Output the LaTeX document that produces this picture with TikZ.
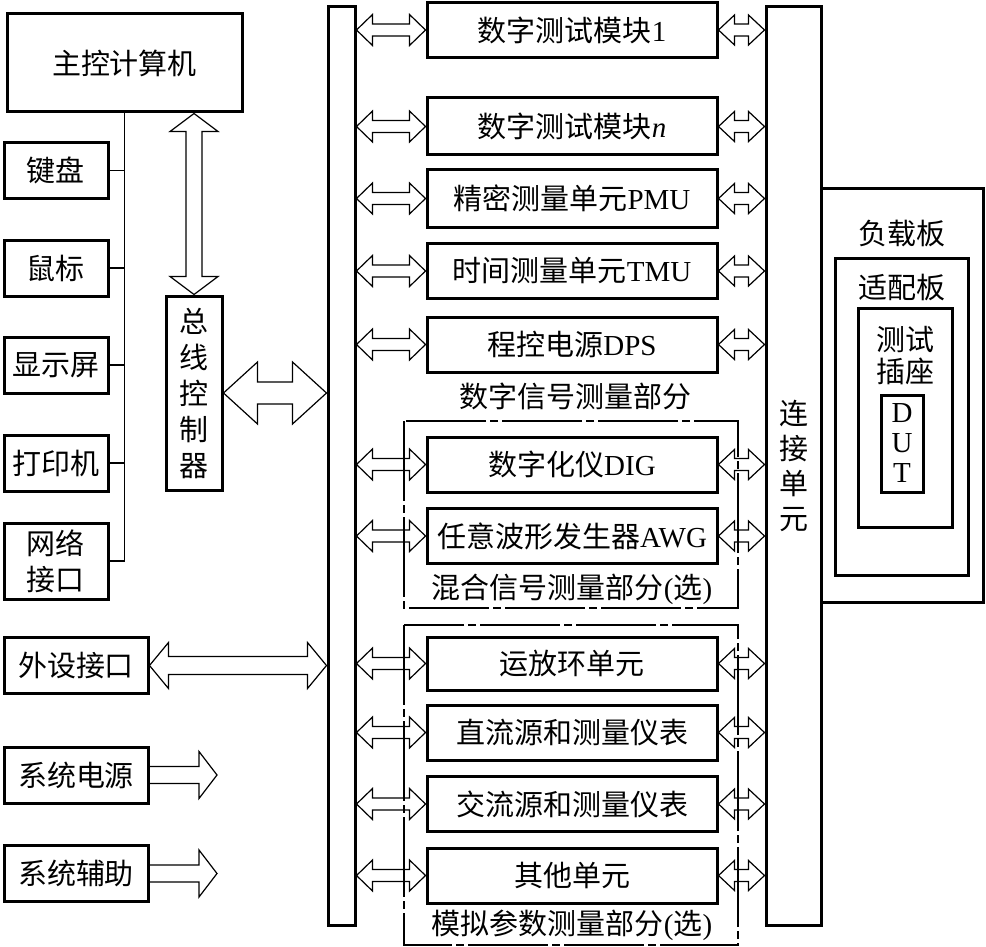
\documentclass[tikz,border=0pt]{standalone}
\usepackage{fontspec}
\setmainfont{Liberation Serif}
\newfontfamily\cjk{Noto Sans CJK SC}
\usetikzlibrary{calc, positioning}

\newcommand{\zh}[1]{{\cjk #1}}
% hollow block arrows: from, to, shaft half width, head half width, head length
\newcommand{\twowayarrow}[5]{%
  \draw[blockarrow] let \p1=#1, \p2=#2 in
    (\x1,\y1) -- (\x1+#5,\y1+#4) -- (\x1+#5,\y1+#3) -- (\x2-#5,\y1+#3)
    -- (\x2-#5,\y1+#4) -- (\x2,\y1) -- (\x2-#5,\y1-#4) -- (\x2-#5,\y1-#3)
    -- (\x1+#5,\y1-#3) -- (\x1+#5,\y1-#4) -- cycle;}
\newcommand{\onewayarrow}[5]{%
  \draw[blockarrow] let \p1=#1, \p2=#2 in
    (\x1,\y1+#3) -- (\x2-#5,\y1+#3) -- (\x2-#5,\y1+#4) -- (\x2,\y1)
    -- (\x2-#5,\y1-#4) -- (\x2-#5,\y1-#3) -- (\x1,\y1-#3);}
\newcommand{\vtwowayarrow}[5]{%
  \draw[blockarrow] let \p1=#1, \p2=#2 in
    (\x1,\y1) -- (\x1+#4,\y1-#5) -- (\x1+#3,\y1-#5) -- (\x1+#3,\y2+#5)
    -- (\x1+#4,\y2+#5) -- (\x1,\y2) -- (\x1-#4,\y2+#5) -- (\x1-#3,\y2+#5)
    -- (\x1-#3,\y1-#5) -- (\x1-#4,\y1-#5) -- cycle;}

\begin{document}
\begin{tikzpicture}[x=1pt, y=-1pt,
    box/.style={draw, line width=3pt, inner sep=0pt, align=center, font=\fontsize{29}{34}\selectfont},
    module/.style={box, minimum width=290pt, minimum height=55pt},
    periph/.style={box, minimum width=104pt, minimum height=56pt},
    bar/.style={draw, line width=3pt, inner sep=0pt},
    group/.style={line width=1.3pt, dash pattern=on 80pt off 4pt on 8pt off 4pt},
    grouptitle/.style={inner sep=0pt, font=\fontsize{29}{34}\selectfont},
    blockarrow/.style={line width=1.2pt, line join=miter},
    wire/.style={line width=1.5pt}
]
    \useasboundingbox (0,0) rectangle (986,947);

    % host side
    \node[box, minimum width=235pt, minimum height=98pt] (host) at (124.5,63) {\zh{主控计算机}};
    \node[periph] (kbd) at (56,170.5) {\zh{键盘}};
    \node[periph] (mouse) at (56,268) {\zh{鼠标}};
    \node[periph] (disp) at (56,365) {\zh{显示屏}};
    \node[periph] (prn) at (56,463) {\zh{打印机}};
    \node[periph, minimum height=76pt, font=\fontsize{29}{36}\selectfont] (net) at (56,561) {\zh{网络}\\\zh{接口}};
    \node[box, minimum width=56pt, minimum height=194pt, font=\fontsize{29}{36}\selectfont] (busctl) at (194,393)
        {\zh{总}\\\zh{线}\\\zh{控}\\\zh{制}\\\zh{器}};
    \node[periph, minimum width=144pt] (extio) at (76,665.5) {\zh{外设接口}};
    \node[periph, minimum width=144pt] (power) at (76,775) {\zh{系统电源}};
    \node[periph, minimum width=144pt] (aux) at (76,873.5) {\zh{系统辅助}};
    \coordinate (powerend) at (217,775);
    \coordinate (auxend) at (217,873.5);

    \draw[wire] (host.south) -- (host.south |- net.east) -- (net.east);
    \foreach \p in {kbd, mouse, disp, prn}
        \draw[wire] (\p.east) -- (\p.east -| host.south);

    % buses
    \node[bar, minimum width=27pt, minimum height=918pt] (sysbus) at (341.5,466) {};
    \node[bar, minimum width=55pt, minimum height=918pt, align=center, font=\fontsize{29}{35}\selectfont] (conn) at (793.5,466)
        {\zh{连}\\\zh{接}\\\zh{单}\\\zh{元}};

    % groups
    \draw[group] (404,421) rectangle (738,608);
    \draw[group] (404,625) rectangle (738,945);

    % instruments
    \node[module] (dtm1) at (572,30) {\zh{数字测试模块}1};
    \node[module, minimum height=57pt] (dtmn) at (572,126.5) {\zh{数字测试模块}\textit{n}};
    \node[module, minimum height=57pt] (pmu) at (572,198.5) {\zh{精密测量单元}PMU};
    \node[module] (tmu) at (572,271) {\zh{时间测量单元}TMU};
    \node[module] (dps) at (572,344.5) {\zh{程控电源}DPS};
    \node[grouptitle] (digtitle) at (575,396) {\zh{数字信号测量部分}};
    \node[module] (dig) at (572,464.5) {\zh{数字化仪}DIG};
    \node[module] (awg) at (572,536) {\zh{任意波形发生器}AWG};
    \node[grouptitle] (mixtitle) at (572,589) {\zh{混合信号测量部分}(\zh{选})};
    \node[module, minimum height=53pt] (opamp) at (572,663.5) {\zh{运放环单元}};
    \node[module] (dcsrc) at (572,732.5) {\zh{直流源和测量仪表}};
    \node[module] (acsrc) at (572,804) {\zh{交流源和测量仪表}};
    \node[module] (other) at (572,875.5) {\zh{其他单元}};
    \node[grouptitle] (anatitle) at (572,925) {\zh{模拟参数测量部分}(\zh{选})};

    % load board
    \node[box, minimum width=162pt, minimum height=413pt] (load) at (902,395.5) {};
    \node[grouptitle] (loadtitle) at (902,233) {\zh{负载板}};
    \node[box, minimum width=133pt, minimum height=317pt] (adapter) at (901.5,416.5) {};
    \node[grouptitle] (adaptertitle) at (901.5,288) {\zh{适配板}};
    \node[box, minimum width=94pt, minimum height=219pt] (socket) at (905,417.5) {};
    \node[grouptitle, align=center, font=\fontsize{29}{32}\selectfont] (sockettitle) at (905,356) {\zh{测试}\\\zh{插座}};
    \node[box, minimum width=42pt, minimum height=97pt, font=\fontsize{29}{30}\selectfont] (dut) at (902,443.5) {D\\U\\T};

    % block arrows
    \vtwowayarrow{(busctl.north |- host.south)}{(busctl.north)}{8pt}{24pt}{18pt}
    \twowayarrow{(busctl.east)}{(sysbus.west |- busctl.east)}{11pt}{31pt}{34pt}
    \twowayarrow{(extio.east)}{(sysbus.west |- extio.east)}{9pt}{23pt}{19pt}
    \onewayarrow{(power.east)}{(powerend)}{8.5pt}{23.5pt}{18pt}
    \onewayarrow{(aux.east)}{(auxend)}{8.5pt}{23.5pt}{18pt}
    \foreach \m in {dtm1, dtmn, pmu, tmu, dps, dig, awg, opamp, dcsrc, acsrc, other} {
        \twowayarrow{(sysbus.east |- \m.west)}{(\m.west)}{6pt}{15.5pt}{16pt}
        \twowayarrow{(\m.east)}{(conn.west |- \m.east)}{6pt}{15pt}{16pt}
    }
\end{tikzpicture}
\end{document}
